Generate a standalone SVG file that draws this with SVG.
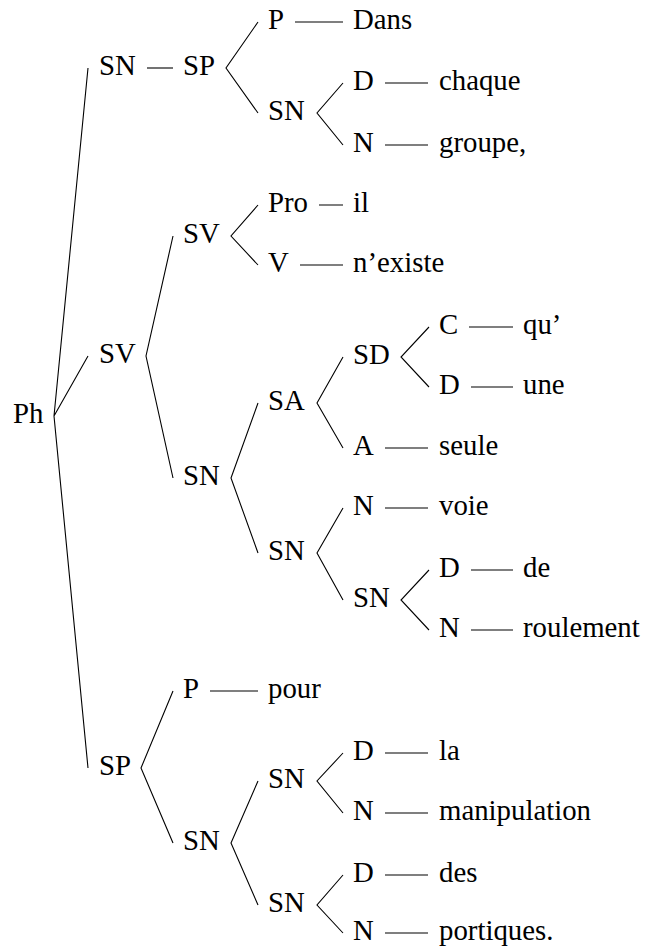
<svg xmlns="http://www.w3.org/2000/svg" width="645" height="950" viewBox="0 0 645 950">
<style>
.e{stroke:#000;stroke-width:1.1;fill:none}
</style>
<rect width="645" height="950" fill="#fff"/>
<g id="connectors" class="e">
<path d="M88,68 L54,416 L88,356 M54,416 L88,768"/>
<path d="M147,68 H173"/>
<path d="M258,22 L226,68 L258,113"/>
<path d="M295,22 H343"/>
<path d="M343,83 L317,113 L343,145"/>
<path d="M385,83 H428 M385,145 H428"/>
<path d="M173,236 L146,356 L173,478"/>
<path d="M258,205 L231,236 L258,265"/>
<path d="M319,205 H343 M300,265 H343"/>
<path d="M258,403 L231,478 L258,553"/>
<path d="M343,357 L317,403 L343,448"/>
<path d="M429,327 L401,357 L429,387"/>
<path d="M469,327 H513 M471,387 H513"/>
<path d="M385,448 H428"/>
<path d="M343,508 L317,553 L343,600"/>
<path d="M385,508 H428"/>
<path d="M429,570 L401,600 L429,630"/>
<path d="M471,570 H513 M471,630 H513"/>
<path d="M173,691 L141,768 L173,843"/>
<path d="M210,691 H258"/>
<path d="M258,781 L231,843 L258,905"/>
<path d="M343,753 L317,781 L343,813"/>
<path d="M385,753 H428 M385,813 H428"/>
<path d="M343,875 L317,905 L343,933"/>
<path d="M385,875 H428 M385,933 H428"/>
</g>
<g id="nodes" font-family="Times New Roman, Liberation Serif, serif" font-size="28.8px">
<g id="n-ph"><text x="13" y="423">Ph</text></g>
<g id="n-sn1"><text x="99" y="75">SN</text></g>
<g id="n-sv1"><text x="99" y="363">SV</text></g>
<g id="n-sp1"><text x="99" y="775">SP</text></g>
<g id="n-sp2"><text x="183" y="75">SP</text></g>
<g id="n-sv2"><text x="183" y="243">SV</text></g>
<g id="n-sn2"><text x="183" y="485">SN</text></g>
<g id="n-p2"><text x="183" y="698">P</text></g>
<g id="n-sn2b"><text x="183" y="850">SN</text></g>
<g id="n-p3"><text x="268" y="29">P</text></g>
<g id="n-sn3a"><text x="268" y="120">SN</text></g>
<g id="n-pro3"><text x="268" y="212">Pro</text></g>
<g id="n-v3"><text x="268" y="272">V</text></g>
<g id="n-sa3"><text x="268" y="410">SA</text></g>
<g id="n-sn3b"><text x="268" y="560">SN</text></g>
<g id="n-pour"><text x="268" y="698">pour</text></g>
<g id="n-sn3c"><text x="268" y="788">SN</text></g>
<g id="n-sn3d"><text x="268" y="912">SN</text></g>
<g id="n-dans"><text x="353" y="29">Dans</text></g>
<g id="n-d4a"><text x="353" y="90">D</text></g>
<g id="n-n4a"><text x="353" y="152">N</text></g>
<g id="n-il"><text x="353" y="212">il</text></g>
<g id="n-existe"><text x="353" y="272">n’existe</text></g>
<g id="n-sd4"><text x="353" y="364">SD</text></g>
<g id="n-a4"><text x="353" y="455">A</text></g>
<g id="n-n4b"><text x="353" y="515">N</text></g>
<g id="n-sn4"><text x="353" y="607">SN</text></g>
<g id="n-d4b"><text x="353" y="760">D</text></g>
<g id="n-n4c"><text x="353" y="820">N</text></g>
<g id="n-d4c"><text x="353" y="882">D</text></g>
<g id="n-n4d"><text x="353" y="940">N</text></g>
<g id="n-chaque"><text x="439" y="90">chaque</text></g>
<g id="n-groupe"><text x="439" y="152">groupe,</text></g>
<g id="n-c5"><text x="439" y="334">C</text></g>
<g id="n-d5a"><text x="439" y="394">D</text></g>
<g id="n-seule"><text x="439" y="455">seule</text></g>
<g id="n-voie"><text x="439" y="515">voie</text></g>
<g id="n-d5b"><text x="439" y="577">D</text></g>
<g id="n-n5"><text x="439" y="637">N</text></g>
<g id="n-la"><text x="439" y="760">la</text></g>
<g id="n-manip"><text x="439" y="820">manipulation</text></g>
<g id="n-des"><text x="439" y="882">des</text></g>
<g id="n-portiques"><text x="439" y="940">portiques.</text></g>
<g id="n-qu"><text x="523" y="334">qu’</text></g>
<g id="n-une"><text x="523" y="394">une</text></g>
<g id="n-de"><text x="523" y="577">de</text></g>
<g id="n-roulement"><text x="523" y="637">roulement</text></g>
</g>
</svg>
